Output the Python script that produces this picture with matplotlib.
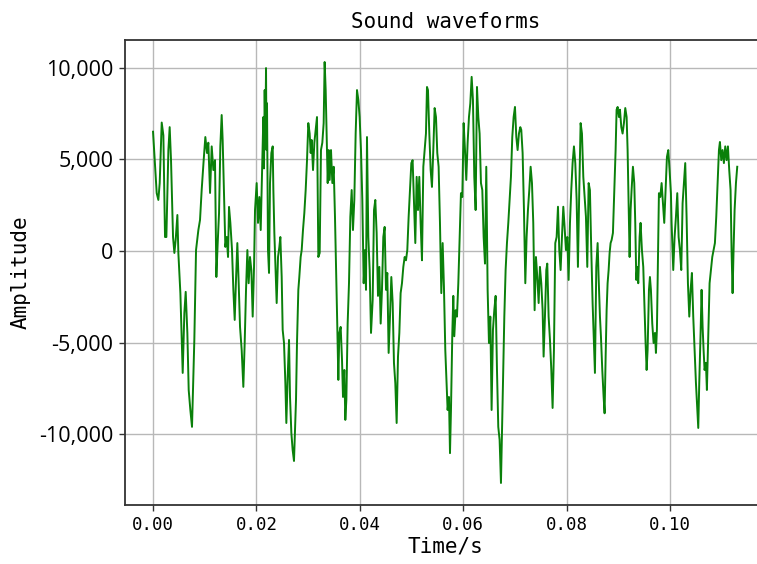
import matplotlib
matplotlib.use("Agg")
import matplotlib.pyplot as plt

# Waveform samples (time in ms, amplitude)
time_ms = [
    0.00, 0.13, 0.71, 1.03, 1.29, 1.68, 2.00, 2.32, 2.58, 2.97, 3.22, 3.48, 3.87, 4.13, 4.38, 4.71, 4.90,
    5.29, 5.74, 6.06, 6.32, 6.64, 6.90, 7.22, 7.54, 7.99, 8.32, 8.77, 9.09, 9.41, 9.80, 10.12, 10.44,
    10.70, 11.03, 11.35, 11.67, 11.99, 12.25, 12.51, 12.77, 13.02, 13.28,
    13.47, 13.73, 13.99, 14.25, 14.51, 14.70, 14.96, 15.28, 15.54, 15.80, 16.05, 16.31, 16.57, 16.83,
    17.15, 17.47, 17.73, 17.99, 18.25, 18.50, 18.76, 19.02, 19.28, 19.54, 19.73, 20.05, 20.31, 20.57,
    20.83, 21.08, 21.34, 21.47, 21.60, 21.73, 21.86, 21.95, 22.05, 22.24, 22.44, 22.63, 22.89, 23.15, 23.28, 23.47, 23.73,
    23.92, 24.18, 24.44, 24.63, 24.89, 25.08, 25.34, 25.60, 25.79, 26.05, 26.31, 26.50, 26.76, 27.01,
    27.27,
    27.66, 27.85, 28.11, 28.30, 28.56, 28.76, 29.01, 29.27, 29.53, 29.79, 30.04, 30.30, 30.50, 30.69,
    30.95, 31.21, 31.46, 31.72, 31.98, 32.24, 32.49, 32.75, 33.01, 33.20, 33.40, 33.59, 33.79, 33.98,
    34.17, 34.43, 34.69, 34.95, 35.20, 35.46, 35.65, 35.85, 36.04, 36.30, 36.56, 36.75, 37.01, 37.20,
    37.40, 37.65, 37.91, 38.17, 38.43, 38.68, 38.94, 39.20, 39.46, 39.72, 39.97, 40.23, 40.49, 40.75,
    41.01, 41.20, 41.39, 41.65, 41.91, 42.17,
    42.49, 42.75, 43.00, 43.26, 43.52, 43.78, 44.04, 44.29, 44.55, 44.81, 45.07, 45.32, 45.58, 45.84,
    46.10, 46.36, 46.61, 46.87, 47.13, 47.39, 47.65, 47.90, 48.16, 48.42, 48.68, 48.94, 49.19, 49.45,
    49.71, 49.97, 50.22, 50.48, 50.74, 51.00, 51.26, 51.51, 51.77, 52.03, 52.29, 52.55, 52.80, 53.00,
    53.19, 53.45, 53.71, 53.96, 54.22, 54.48, 54.74, 54.99, 55.25, 55.51, 55.77, 56.03, 56.28, 56.54,
    56.99, 57.25, 57.45, 57.64, 57.90, 58.09, 58.28, 58.54, 58.80, 59.06, 59.32, 59.57, 59.83, 60.09,
    60.35, 60.60, 60.86, 61.12, 61.38, 61.64, 61.89, 62.15, 62.41, 62.67, 62.93, 63.18, 63.44, 63.70,
    63.96, 64.22, 64.47, 64.73, 64.99, 65.25, 65.50, 65.76, 66.02, 66.28, 66.54, 66.79, 67.05, 67.31,
    67.50, 67.70, 67.96, 68.21, 68.47, 68.73, 68.99, 69.24, 69.50, 69.76, 70.02, 70.28, 70.53, 70.79,
    71.05,
    71.24, 71.50, 71.76, 72.02, 72.27, 72.53, 72.79, 73.05, 73.31, 73.56, 73.82, 74.08, 74.34, 74.60,
    74.85, 75.11, 75.37, 75.56, 75.82, 76.08, 76.27, 76.53, 76.79, 77.05, 77.30, 77.56, 77.82, 78.08,
    78.34, 78.59, 78.85, 79.11, 79.37, 79.62, 79.88, 80.14, 80.40, 80.66, 80.91, 81.17, 81.43, 81.69,
    81.95, 82.20, 82.46, 82.72, 82.98, 83.24, 83.49, 83.75, 84.01, 84.27, 84.52, 84.78, 85.04, 85.30,
    85.49,
    85.75, 86.01, 86.20, 86.46, 86.65, 86.91, 87.17, 87.36, 87.56, 87.75, 87.94, 88.14, 88.33, 88.52,
    88.72, 88.97, 89.23, 89.49, 89.68, 89.88, 90.13, 90.33, 90.59, 90.84, 91.10, 91.36, 91.62, 91.81,
    92.00, 92.20, 92.39, 92.58, 92.84, 93.10, 93.29, 93.49, 93.68, 93.87, 94.13, 94.32, 94.58, 94.84,
    95.10, 95.29, 95.49, 95.68, 95.94, 96.13, 96.32, 96.58, 96.84, 97.10, 97.29, 97.48, 97.68, 97.87,
    98.13, 98.39, 98.64, 98.90, 99.16, 99.42, 99.68, 99.93, 100.19,
    100.32, 100.64, 100.90, 101.16, 101.42, 101.68, 101.93, 102.19, 102.45, 102.71, 102.96, 103.22,
    103.48, 103.74, 104.00, 104.25, 104.51, 104.77, 105.03, 105.29, 105.48, 105.67, 105.93, 106.12,
    106.32, 106.51, 106.70, 106.96, 107.15, 107.41, 107.67, 107.93, 108.19, 108.44, 108.70, 108.96,
    109.22, 109.48, 109.67, 109.93, 110.18, 110.44, 110.70, 110.96, 111.22, 111.47, 111.73, 111.93,
    112.12, 112.31, 112.51, 112.77, 113.02,
]

amplitude = [
    6500, 5900, 3150, 2780, 3700, 7000, 6300, 760, 760, 5500, 6750, 4950, 760, -110, 600, 1960, -110,
    -2300, -6650, -3380, -2230, -4470, -7580, -8670, -9590, -4850, 50, 1140, 1690, 3320, 4960, 6210, 5340,
    5900, 3160, 5700, 4410, 4950, -1420, 430, 2070, 5700, 7410,
    6050, 3150, 220, 760, -330, 2400, 1530, 50, -2120, -3760, -1580, 430, -1760, -4140,
    -5400, -7410, -5020, -2120, 50, -1760, -330, -1040, -3580, -870, 2230, 3700, 1530, 2940,
    1140, 4040, 7300, 4500, 8770, 6000, 9970, 5500, 8050, 50, -1200, 3700, 5340, 5700, 3320, 980, -1200,
    -2840, -330, 220, 760, -1420, -4300, -5020, -7200, -9380, -6860, -4850, -7960, -9920, -10850,
    -11450,
    -8120, -5020, -2120, -1420, -330, 50, 1140, 2070, 3320, 4950, 6970, 6400, 5340, 6050,
    4410, 5900, 6600, 7300, -330, -110, 5500, 5900, 6970, 10300, 8770, 6400, 3700, 5500,
    3870, 5500, 3700, 4590, 1860, -1580, -4140, -7030, -4470, -4140, -5940, -7960, -6490, -9210,
    -8120, -3960, -1760, 1860, 3320, 1140, 2780, 6400, 8770, 8230, 7300, 5500, 2780, -1760,
    50, -2120, 6210, 760, -1040, -4470,
    -2670, 2230, 2780, 980, -2450, -870, -3960, -2120, 760, 1310, -2120, -1200, -5560, -3580,
    -1420, -2840, -6100, -7200, -9380, -5760, -4470, -2300, -1760, -870, -330, -510, 50, 1860,
    3320, 4790, 4950, 2600, 430, 4040, 2230, 4040, 1530, -510, 4590, 5500, 6400, 8940,
    8770, 6400, 4410, 3490, 5500, 7790, 7300, 5340, 4590, 1530, -2300, 430, -1960, -5400,
    -8670, -7960, -11020, -8670, -4470, -2450, -4650, -3230, -3580, -1760, 760, 3150, 2940, 6970,
    5500, 3870, 5900, 7300, 8050, 9490, 8230, 4040, 2230, 8940, 7300, 6400, 3700, 3320,
    760, -690, 4590, -2120, -5020, -3580, -8670, -4300, -3230, -2450, -6490, -9590, -10300, -12650,
    -9920, -6860, -3580, -1040, 430, 1530, 2780, 4040, 6210, 7300, 7850, 6210, 5500, 6400,
    6750,
    6600, 5340, 2230, -1760, 760, 2230, 3320, 4590, 3700, 1530, -3230, -330, -1420, -2840,
    -870, -1760, -3230, -5760, -3580, -1040, -690, -3580, -4850, -6490, -8560, -5400, 430, 760,
    2410, 50, -1040, 760, 2410, 1310, 50, 760, -1580, 1530, 3320, 4790, 5700, 4790,
    2780, -870, 3320, 6970, 6400, 4040, 2940, 1860, -870, 3700, 3320, 50, -2840, -5020,
    -6650,
    -870, 430, -1420, -3580, -4650, -6490, -7960, -8850, -5760, -3230, -1760, -1040, -110, 430,
    600, 980, 3320, 5500, 7700, 7850, 7300, 7700, 6750, 6400, 6970, 7790, 7300, 5500,
    2780, -330, 2230, 3320, 4590, 3700, 1530, -1580, -870, -1760, 760, 1530, 50, -870,
    -3230, -5020, -6490, -5400, -2120, -1420, -2120, -3960, -5020, -4470, -5560, -4300, -330, 3150,
    2940, 3700, 2600, 1530, 3320, 5130, 5500, 4410, 3150,
    1530, -1040, 760, 1860, 3150, 760, 50, -1040, 2600, 3700, 4790, 1860,
    -1760, -3580, -2120, -1200, -3580, -5400, -7200, -8670, -9650, -7200, -4470, -2120,
    -4140, -5400, -6490, -6100, -7580, -4650, -1760, -1040, -330, 50, 430, 1860,
    3700, 5500, 5940, 4950, 5500, 4790, 5700, 4950, 5700, 4410, 3320, -110,
    -2300, 50, 2230, 3700, 4590,
]

x_ticks = [0.00, 0.02, 0.04, 0.06, 0.08, 0.10]
x_tick_labels = ["0.00", "0.02", "0.04", "0.06", "0.08", "0.10"]
y_ticks = [-10000, -5000, 0, 5000, 10000]
y_tick_labels = ["-10,000", "-5,000", "0", "5,000", "10,000"]

title_text = "Sound waveforms"
x_label = "Time/s"
y_label = "Amplitude"

W, H = 757, 564
fig = plt.figure(figsize=(W / 100, H / 100), dpi=100)
ax = fig.add_axes([124.6 / W, 59 / H, 642 / W, 465 / H])

t = [v / 1000.0 for v in time_ms]
ax.plot(t, amplitude, color="#0a800a", lw=1.4, zorder=3)

ax.set_xlim(-0.0055, 0.1187)
ax.set_ylim(-13850, 11500)

ax.set_xticks(x_ticks)
ax.set_xticklabels(x_tick_labels, fontfamily="DejaVu Sans Mono", fontsize=12.5)
ax.set_yticks(y_ticks)
ax.set_yticklabels(y_tick_labels, fontfamily="Open Sans", fontsize=15.5)

ax.grid(True, color="#b8b8b8", lw=1.0)
ax.set_axisbelow(True)
for s in ax.spines.values():
    s.set_color("#333333")
    s.set_linewidth(1.3)
ax.tick_params(axis="both", length=4.5, width=1.0, color="#333333")

ax.set_title(title_text, fontfamily="DejaVu Sans Mono", fontsize=15, pad=9)
ax.set_xlabel(x_label, fontfamily="DejaVu Sans Mono", fontsize=15, labelpad=2)
ax.set_ylabel(y_label, fontfamily="DejaVu Sans Mono", fontsize=15, labelpad=6)

fig.savefig("out.png", dpi=100)
